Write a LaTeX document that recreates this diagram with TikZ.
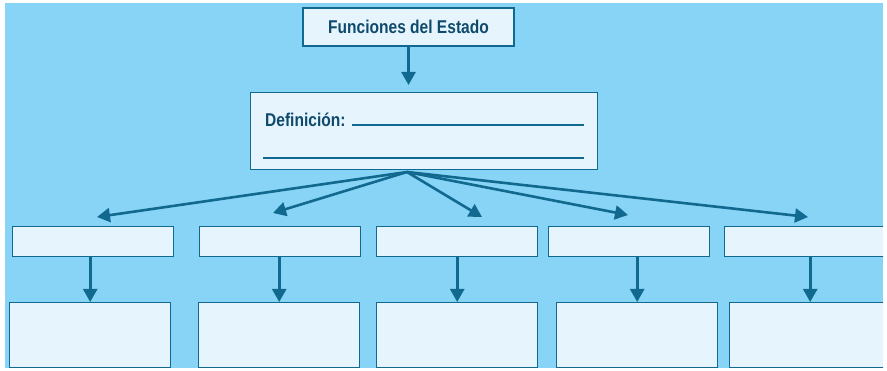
\documentclass[tikz,border=0pt]{standalone}
\usepackage{fontspec}
\setmainfont{Liberation Sans}[FakeStretch=0.84]
\usepackage{xcolor}
\usetikzlibrary{arrows.meta,positioning,calc}

\definecolor{fondo}{HTML}{88D4F6}
\definecolor{relleno}{HTML}{E6F5FD}
\definecolor{borde}{HTML}{12698F}
\definecolor{texto}{HTML}{0F4A6C}

\begin{document}
\begin{tikzpicture}[x=1pt, y=-1pt, font=\fontsize{18.5}{22}\selectfont\bfseries, every node/.style={inner sep=2pt}]
        \tikzset{
            caja/.style={draw=borde, fill=relleno, line width=1.4pt, anchor=north west, minimum width=161pt},
            titbox/.style={draw=borde, fill=relleno, line width=1.4pt, text=texto, minimum width=211pt, minimum height=38pt},
            raya/.style={draw=borde, line width=2.2pt},
            flecha/.style={-{Triangle[length=13pt,width=14pt]}, draw=borde, line width=2.6pt}
        }

        % Frame and background
        \useasboundingbox (0,0) rectangle (887,371);
        \fill[fondo] (5,3) rectangle (883,368);
        \clip (5,3) rectangle (883,368);

        % Title and definition box
        \node[titbox] (estado) at (408.5,27) {Funciones del Estado};
        \node[caja, minimum width=347pt, minimum height=77pt] (defin) at (250,92) {};
        \node[anchor=base west, inner sep=0pt, text=texto] (defrot) at (265,127) {Definición:};
        \coordinate (rayaA0) at ($(defrot.base east)+(6pt,2pt)$);
        \coordinate (rayaA1) at (584,125);
        \coordinate (rayaB0) at (263,158);
        \coordinate (rayaB1) at (584,158);
        \draw[raya] (rayaA0) -- (rayaA1);
        \draw[raya] (rayaB0) -- (rayaB1);

        \draw[flecha, shorten >=7pt] (estado.south) -- (estado.south |- defin.north);

        % Two rows of empty boxes
        \foreach \i/\xa/\xb in {1/12/9, 2/199/198, 3/376/376, 4/548/556, 5/724/729} {
            \node[caja, minimum height=30pt] (cat\i) at (\xa,226) {};
            \node[caja, minimum height=65pt] (det\i) at (\xb,302) {};
        }

        % Fan of arrows from the definition
        \coordinate (abanico) at (407,172);
        \foreach \i/\px/\py in {1/97/217, 2/273/213, 3/482/217, 4/628/215, 5/808/217} {
            \coordinate (punta\i) at (\px,\py);
            \draw[flecha] (abanico) -- (punta\i);
        }

        % Down arrows between rows
        \foreach \i in {1,...,5}
            \draw[flecha] (det\i.north |- cat\i.south) -- (det\i.north);
    \end{tikzpicture}
\end{document}
